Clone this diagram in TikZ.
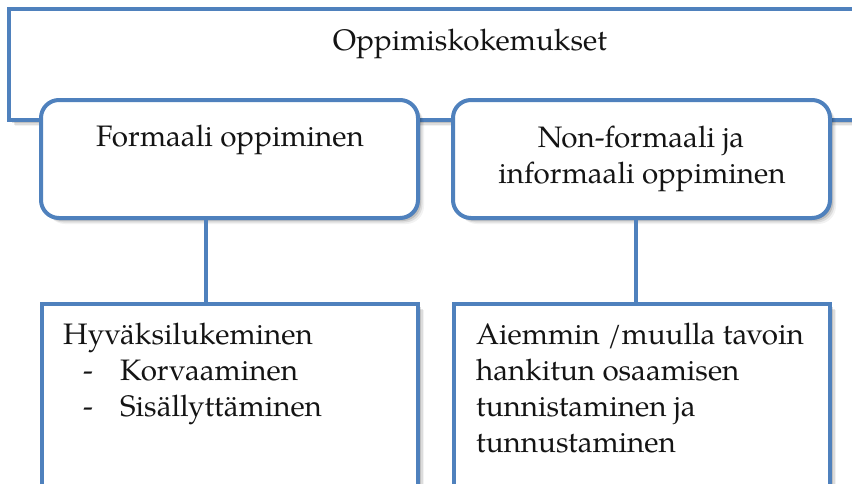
\documentclass[tikz,border=0pt]{standalone}
\usepackage{fontspec}
\setmainfont{TeX Gyre Pagella}
\usetikzlibrary{shadows}
\definecolor{boxblue}{RGB}{79,129,189}
\tikzset{
  softshadow/.style={
    general shadow={shadow xshift=1.5pt, shadow yshift=-1.5pt, fill=black, opacity=0.16},
    general shadow={shadow xshift=3pt, shadow yshift=-3pt, fill=black, opacity=0.13},
    general shadow={shadow xshift=4.5pt, shadow yshift=-4.5pt, fill=black, opacity=0.09},
    general shadow={shadow xshift=6pt, shadow yshift=-6pt, fill=black, opacity=0.05}},
  sqbox/.style={draw=boxblue, line width=4pt, fill=white, rectangle, inner sep=0pt, softshadow},
  rbox/.style={draw=boxblue, line width=4pt, fill=white, rectangle, rounded corners=18pt, inner sep=0pt, softshadow},
  conn/.style={draw=boxblue, line width=4pt},
  lbl/.style={inner sep=0pt, font=\fontsize{29.6}{37}\selectfont, text=black!92},
}
\begin{document}
\begin{tikzpicture}[x=1pt, y=-1pt]
\useasboundingbox (0,0) rectangle (852,483);
\begin{scope}
\clip (0,0) rectangle (852,483);
% top box
\node[sqbox, minimum width=922pt, minimum height=111pt] (top) at (470,64.5) {};
\node[lbl, anchor=base] (toptext) at (470,50) {Oppimiskokemukset};
% second row
\node[rbox, minimum width=377pt, minimum height=118pt] (f) at (229.5,159) {};
\node[rbox, minimum width=377pt, minimum height=118pt] (nf) at (641.5,159) {};
\node[lbl, anchor=base] (ftext) at (230,146) {Formaali oppiminen};
\node[lbl, anchor=base] (nftext1) at (641,147) {Non-formaali ja};
\node[lbl, anchor=base] (nftext2) at (642,183) {informaali oppiminen};
% bottom row
\node[sqbox, minimum width=376pt, minimum height=216pt] (b1) at (230,412) {};
\node[sqbox, minimum width=376pt, minimum height=216pt] (b2) at (642,412) {};
\draw[conn] ([xshift=-23.5pt]f.south) -- ([xshift=-24pt]b1.north);
\draw[conn] ([xshift=-5.5pt]nf.south) -- ([xshift=-6pt]b2.north);
\node[lbl, anchor=base west] (h1) at (63,344) {Hyväksilukeminen};
\node[lbl, anchor=base west] (d1) at (83,380) {-};
\node[lbl, anchor=base west] (h2) at (120,380) {Korvaaminen};
\node[lbl, anchor=base west] (d2) at (83,416) {-};
\node[lbl, anchor=base west] (h3) at (120,416) {Sisällyttäminen};
\node[lbl, anchor=base west] (a1) at (476,344) {Aiemmin /muulla tavoin};
\node[lbl, anchor=base west] (a2) at (476,380) {hankitun osaamisen};
\node[lbl, anchor=base west] (a3) at (476,416) {tunnistaminen ja};
\node[lbl, anchor=base west] (a4) at (476,452) {tunnustaminen};
\end{scope}
\end{tikzpicture}
\end{document}
